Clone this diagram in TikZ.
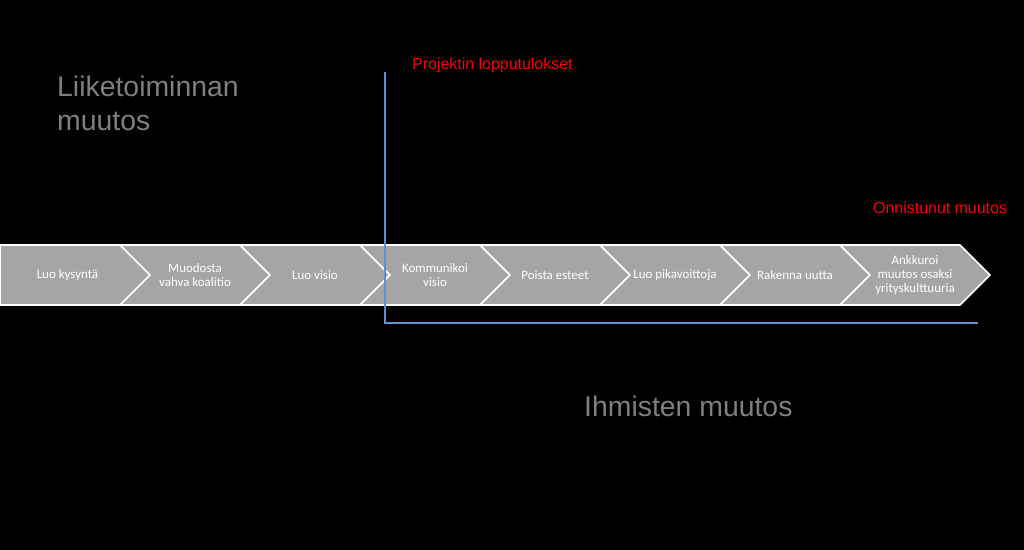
\documentclass[tikz,border=0pt]{standalone}
\usepackage{fontspec}
\setmainfont{Liberation Sans}
\newfontfamily\chevfont{Carlito}
\usetikzlibrary{shapes.symbols}
\definecolor{chevgray}{HTML}{A5A5A5}
\definecolor{titlegray}{HTML}{7F7F7F}
\definecolor{lineblue}{RGB}{95,145,210}
\tikzset{
chev/.style={signal,signal to=east,signal from=west,signal pointer angle=90,
  fill=chevgray,draw=white,line width=1.6bp,minimum width=150bp,minimum height=60bp,
  inner sep=0pt,outer sep=0pt,text=white,align=center,
  font=\chevfont\fontsize{13}{14}\selectfont},
chevfirst/.style={chev,signal from=nowhere,minimum width=165bp},
bigtitle/.style={text=titlegray,inner sep=0pt,align=left,
  font=\fontsize{28.5}{34.3}\selectfont},
redlabel/.style={text=red,inner sep=0pt,font=\fontsize{16}{19}\selectfont},
blueline/.style={draw=lineblue,line width=1.4bp}
}
\begin{document}
\begin{tikzpicture}[x=1bp,y=-1bp]
\fill[black] (0,0) rectangle (1024,550);
\useasboundingbox (0,0) rectangle (1024,550);

\node[bigtitle,anchor=north west] (biz) at (57,75.3) {Liiketoiminnan\\muutos};
\node[bigtitle,anchor=base west] (people) at (584,416.7) {Ihmisten muutos};
\node[redlabel,anchor=base west] (results) at (412,70) {Projektin lopputulokset};
\node[redlabel,anchor=base west] (success) at (873,214) {Onnistunut muutos};

% kahdeksan vaihetta
\node[chevfirst,anchor=west] (s1) at (0,275) {Luo kysyntä};
\node[chev] (s2) at (195,275) {Muodosta\\vahva koalitio};
\node[chev] (s3) at (315,275) {Luo visio};
\node[chev] (s4) at (435,275) {Kommunikoi\\visio};
\node[chev] (s5) at (555,275) {Poista esteet};
\node[chev] (s6) at (675,275) {Luo pikavoittoja};
\node[chev] (s7) at (795,275) {Rakenna uutta};
\node[chev] (s8) at (915,275) {Ankkuroi\\muutos osaksi\\yrityskulttuuria};

\coordinate (axtop) at (385,72);
\coordinate (axend) at (978,323);
\draw[blueline] (axtop) |- (axend);
\end{tikzpicture}
\end{document}
